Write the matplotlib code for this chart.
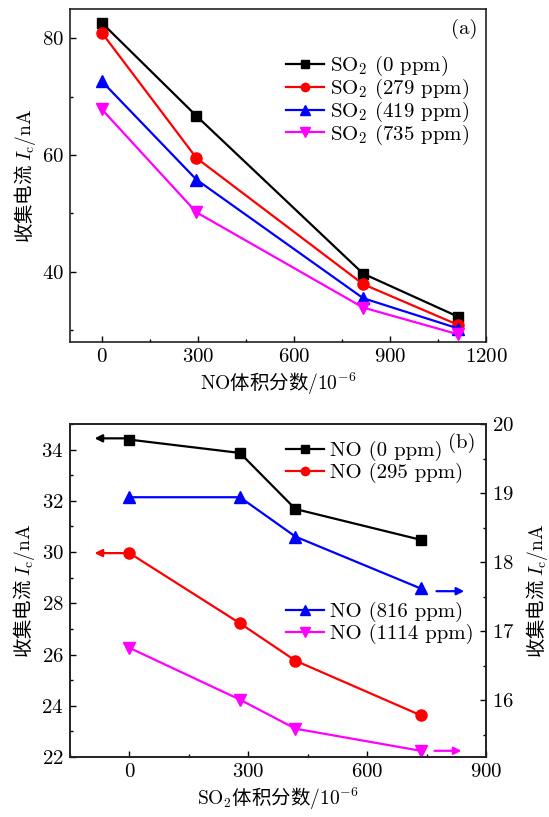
import matplotlib
matplotlib.use("Agg")
import matplotlib.pyplot as plt
from matplotlib.ticker import MultipleLocator

plt.rcParams["font.family"] = ["cmr10"]
plt.rcParams["mathtext.fontset"] = "cm"
plt.rcParams["axes.formatter.use_mathtext"] = True
plt.rcParams["font.size"] = 15

CJK = "Noto Sans CJK SC"

# (a) collection current vs NO fraction, one curve per SO2 level
no_ppm = [0, 295, 816, 1114]
so2_labels_a = ["SO$_2$ (0 ppm)", "SO$_2$ (279 ppm)", "SO$_2$ (419 ppm)", "SO$_2$ (735 ppm)"]
ic_so2_0 = [82.6, 66.7, 39.7, 32.3]
ic_so2_279 = [80.9, 59.5, 37.9, 30.9]
ic_so2_419 = [72.6, 55.8, 35.5, 30.3]
ic_so2_735 = [67.8, 50.2, 33.9, 29.3]

# (b) collection current vs SO2 fraction, one curve per NO level
so2_ppm = [0, 279, 419, 735]
no_labels_b = ["NO (0 ppm)", "NO (295 ppm)", "NO (816 ppm)", "NO (1114 ppm)"]
ic_no_0 = [34.39, 33.87, 31.68, 30.48]      # left axis
ic_no_295 = [29.96, 27.22, 25.76, 23.63]    # left axis
ic_no_816 = [18.94, 18.94, 18.37, 17.62]    # right axis
ic_no_1114 = [16.76, 16.01, 15.59, 15.27]   # right axis

colors = ["black", "red", "blue", "magenta"]
markers = ["s", "o", "^", "v"]
msizes = [7, 8, 9, 9]

ylabel = "收集电流 $I_\\mathrm{c}/\\mathrm{nA}$"

fig = plt.figure(figsize=(5.49, 8.17), dpi=100)
W, H = 549, 817


def px_axes(left, top, right, bottom):
    return fig.add_axes([left / W, 1 - bottom / H, (right - left) / W, (bottom - top) / H])


def style(ax):
    for s in ax.spines.values():
        s.set_linewidth(1.2)
        s.set_color("#222222")
    ax.tick_params(which="both", direction="in", labelsize=15, pad=4.5)
    ax.tick_params(which="major", length=4.5, width=1.0)
    ax.tick_params(which="minor", length=2.5, width=1.0)


def legend(ax, handles, labels, x, y, spacing=0.08):
    return ax.legend(handles, labels, loc="upper left",
                     bbox_to_anchor=(x / W, 1 - y / H), bbox_transform=fig.transFigure,
                     frameon=False, fontsize=15, handlelength=1.82, handletextpad=0.3,
                     labelspacing=spacing, borderpad=0, borderaxespad=0, markerscale=0.75)


# ---- panel (a) ----
ax_a = px_axes(70, 9, 486, 342)
lines_a = []
for ys, c, m, ms in zip([ic_so2_0, ic_so2_279, ic_so2_419, ic_so2_735], colors, markers, msizes):
    ln, = ax_a.plot(no_ppm, ys, color=c, marker=m, ms=ms, lw=1.6)
    lines_a.append(ln)
ax_a.set_xlim(-100, 1200)
ax_a.set_ylim(28, 85)
ax_a.xaxis.set_major_locator(MultipleLocator(300))
ax_a.xaxis.set_minor_locator(MultipleLocator(150))
ax_a.yaxis.set_major_locator(MultipleLocator(20))
ax_a.yaxis.set_minor_locator(MultipleLocator(10))
style(ax_a)
ax_a.set_xlabel("$\\mathrm{NO}$体积分数$/10^{-6}$", fontsize=14, family=CJK, labelpad=3)
ax_a.set_ylabel(ylabel, fontsize=14, family=CJK, labelpad=3)
ax_a.text(464 / W, 1 - 29 / H, "(a)", transform=fig.transFigure, ha="center", va="center", fontsize=15)
legend(ax_a, lines_a, so2_labels_a, 286, 54, spacing=-0.06)

# ---- panel (b) ----
ax_b = px_axes(70, 424, 486, 757)
ax_r = ax_b.twinx()
l0, = ax_b.plot(so2_ppm, ic_no_0, color=colors[0], marker=markers[0], ms=msizes[0], lw=1.6)
l1, = ax_b.plot(so2_ppm, ic_no_295, color=colors[1], marker=markers[1], ms=msizes[1], lw=1.6)
l2, = ax_r.plot(so2_ppm, ic_no_816, color=colors[2], marker=markers[2], ms=msizes[2], lw=1.6)
l3, = ax_r.plot(so2_ppm, ic_no_1114, color=colors[3], marker=markers[3], ms=msizes[3], lw=1.6)

ax_b.set_xlim(-150, 900)
ax_b.set_ylim(22, 35)
ax_r.set_ylim(15.18, 20)
ax_b.xaxis.set_major_locator(MultipleLocator(300))
ax_b.xaxis.set_minor_locator(MultipleLocator(150))
ax_b.yaxis.set_major_locator(MultipleLocator(2))
ax_b.yaxis.set_minor_locator(MultipleLocator(1))
ax_r.yaxis.set_major_locator(MultipleLocator(1))
ax_r.yaxis.set_minor_locator(MultipleLocator(0.5))
style(ax_b)
style(ax_r)
ax_b.set_xlabel("$\\mathrm{SO_2}$体积分数$/10^{-6}$", fontsize=14, family=CJK, labelpad=3)
ax_b.set_ylabel(ylabel, fontsize=14, family=CJK, labelpad=3)
ax_r.set_ylabel(ylabel, fontsize=14, family=CJK, rotation=90, labelpad=7)

# arrows pointing to the axis each pair of curves belongs to
arrow = dict(arrowstyle="-|>", lw=1.6, mutation_scale=11, shrinkA=0, shrinkB=0)
ax_b.annotate("", xy=(-88, ic_no_0[0] + 0.05), xytext=(-15, ic_no_0[0] + 0.05),
              arrowprops=dict(arrow, color=colors[0]))
ax_b.annotate("", xy=(-88, ic_no_295[0]), xytext=(-15, ic_no_295[0]),
              arrowprops=dict(arrow, color=colors[1]))
ax_r.annotate("", xy=(845, ic_no_816[-1] - 0.04), xytext=(775, ic_no_816[-1] - 0.04),
              arrowprops=dict(arrow, color=colors[2]))
ax_r.annotate("", xy=(838, ic_no_1114[-1]), xytext=(770, ic_no_1114[-1]),
              arrowprops=dict(arrow, color=colors[3]))

ax_b.text(462 / W, 1 - 443 / H, "(b)", transform=fig.transFigure, ha="center", va="center", fontsize=15)
leg_top = legend(ax_r, [l0, l1], no_labels_b[:2], 286, 441)
ax_r.add_artist(leg_top)
legend(ax_r, [l2, l3], no_labels_b[2:], 286, 602)

fig.savefig("out.png", dpi=100)
